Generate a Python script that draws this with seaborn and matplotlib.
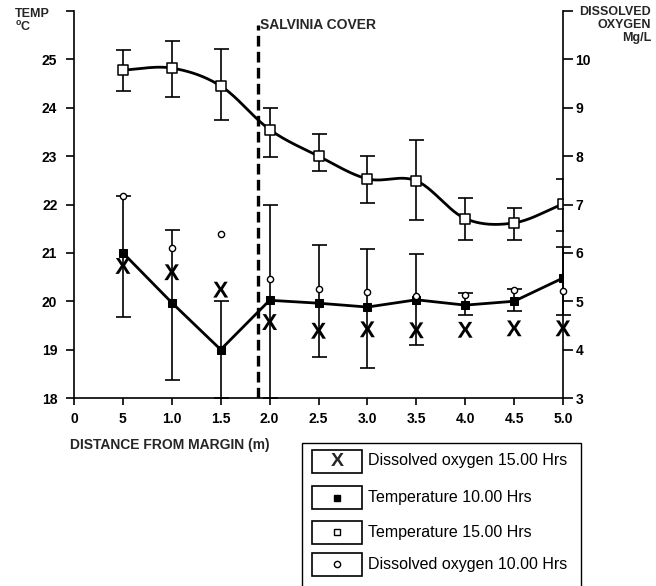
import numpy as np
import pandas as pd
import matplotlib
matplotlib.use("Agg")
import matplotlib.pyplot as plt
import seaborn as sns
from matplotlib.patches import Rectangle

# ---------------- data ----------------
distance = [0.5, 1.0, 1.5, 2.0, 2.5, 3.0, 3.5, 4.0, 4.5, 5.0]
x_tick_values = [0, 0.5, 1.0, 1.5, 2.0, 2.5, 3.0, 3.5, 4.0, 4.5, 5.0]
x_tick_labels = ["0", "5", "1.0", "1.5", "2.0", "2.5", "3.0", "3.5", "4.0", "4.5", "5.0"]

temp_15 = [24.78, 24.82, 24.45, 23.55, 23.00, 22.53, 22.49, 21.71, 21.62, 22.01]
temp_15_hi = [25.20, 25.38, 25.22, 24.00, 23.45, 23.00, 23.34, 22.13, 21.92, 22.53]
temp_15_lo = [24.35, 24.22, 23.75, 22.98, 22.70, 22.03, 21.68, 21.27, 21.27, 21.46]

temp_10 = [21.00, 19.97, 19.00, 20.02, 19.96, 19.88, 20.03, 19.92, 20.00, 20.48]
temp_10_hi = [22.18, 21.48, 20.00, 22.00, 21.17, 21.08, 20.98, 20.17, 20.25, 21.12]
temp_10_lo = [19.68, 18.37, 18.00, 18.00, 18.84, 18.62, 19.10, 19.72, 19.80, 19.72]

do_10 = [7.18, 6.10, 6.40, 5.45, 5.26, 5.19, 5.10, 5.12, 5.24, 5.22]
do_15 = [5.73, 5.60, 5.24, 4.57, 4.39, 4.42, 4.40, 4.41, 4.44, 4.44]

temp_ticks = [18, 19, 20, 21, 22, 23, 24, 25, 26]
temp_tick_labels = ["18", "19", "20", "21", "22", "23", "24", "25", ""]
do_ticks = [3, 4, 5, 6, 7, 8, 9, 10, 11]
do_tick_labels = ["3", "4", "5", "6", "7", "8", "9", "10", ""]

legend_labels = ["Dissolved oxygen 15.00 Hrs", "Temperature 10.00 Hrs",
                 "Temperature 15.00 Hrs", "Dissolved oxygen 10.00 Hrs"]

df = pd.DataFrame({"distance": distance, "temp_15": temp_15, "temp_10": temp_10,
                   "do_10": do_10, "do_15": do_15})

# ---------------- style ----------------
sns.set_theme(style="white")
plt.rcParams["font.family"] = ["Liberation Sans", "DejaVu Sans"]
plt.rcParams["mathtext.fontset"] = "custom"
plt.rcParams["mathtext.bf"] = "Liberation Sans:bold"
plt.rcParams["mathtext.rm"] = "Liberation Sans"

fig = plt.figure(figsize=(6.56, 5.86), dpi=100)
ax = fig.add_axes([74 / 656, 1 - 398 / 586, (563 - 74) / 656, (398 - 11) / 586])
ax2 = ax.twinx()

# smooth (Catmull-Rom) curve through the 15.00 h temperature points
def catmull_rom(xp, yp, n=30):
    xp = np.asarray(xp, float)
    yp = np.asarray(yp, float)
    m = np.zeros_like(yp)
    m[1:-1] = (yp[2:] - yp[:-2]) / (xp[2:] - xp[:-2])
    m[0] = (yp[1] - yp[0]) / (xp[1] - xp[0])
    m[-1] = (yp[-1] - yp[-2]) / (xp[-1] - xp[-2])
    xs, ys = [], []
    for i in range(len(xp) - 1):
        h = xp[i + 1] - xp[i]
        t = np.linspace(0, 1, n, endpoint=False)
        h00 = 2 * t**3 - 3 * t**2 + 1
        h10 = t**3 - 2 * t**2 + t
        h01 = -2 * t**3 + 3 * t**2
        h11 = t**3 - t**2
        xs.append(xp[i] + t * h)
        ys.append(h00 * yp[i] + h10 * h * m[i] + h01 * yp[i + 1] + h11 * h * m[i + 1])
    xs.append([xp[-1]])
    ys.append([yp[-1]])
    return np.concatenate(xs), np.concatenate(ys)

sx, sy = catmull_rom(distance, temp_15)
ax.plot(sx, sy, color="black", lw=2.0, zorder=3, solid_capstyle="round")

# error bars
t15 = np.array(temp_15)
ax.errorbar(distance, temp_15,
            yerr=[t15 - np.array(temp_15_lo), np.array(temp_15_hi) - t15],
            fmt="none", ecolor="black", elinewidth=1.2, capsize=5.4, capthick=1.2, zorder=2)
t10 = np.array(temp_10)
ax.errorbar(distance, temp_10,
            yerr=[t10 - np.array(temp_10_lo), np.array(temp_10_hi) - t10],
            fmt="none", ecolor="black", elinewidth=1.2, capsize=5.4, capthick=1.2, zorder=2,
            clip_on=False)

# temperature 10.00 line with filled squares
sns.lineplot(data=df, x="distance", y="temp_10", ax=ax, color="black", lw=2.0,
             marker="s", markersize=6, markerfacecolor="black", markeredgecolor="black",
             zorder=4, legend=False)
# temperature 15.00 open squares
sns.scatterplot(data=df, x="distance", y="temp_15", ax=ax, marker="s", s=42,
                facecolor="white", edgecolor="black", linewidth=1.1, zorder=5, legend=False)

# vertical dashed Salvinia cover line
ax.axvline(1.88, ymin=0, ymax=0.965, color="black", lw=2.4, ls=(0, (3.2, 1.6)), zorder=2)
ax.text(1.905, 25.72, "SALVINIA COVER", fontsize=10, fontweight="bold",
        ha="left", va="center", zorder=6)

# dissolved oxygen on right axis
sns.scatterplot(data=df, x="distance", y="do_10", ax=ax2, marker="o", s=20,
                facecolor="white", edgecolor="black", linewidth=1.0, zorder=5, legend=False,
                clip_on=False)
sns.scatterplot(data=df, x="distance", y="do_15", ax=ax2, marker=r"$\mathbf{X}$", s=130,
                color="black", edgecolor="none", zorder=5, legend=False, clip_on=False)

# axes formatting
ax.set_xlim(0, 5.0)
ax.set_ylim(18, 26)
ax2.set_ylim(3, 11)
ax.set_xticks(x_tick_values)
ax.set_xticklabels(x_tick_labels)
ax.set_yticks(temp_ticks)
ax.set_yticklabels(temp_tick_labels)
ax2.set_yticks(do_ticks)
ax2.set_yticklabels(do_tick_labels)
ax.set_xlabel("")
ax.set_ylabel("")
ax2.set_ylabel("")

for a in (ax, ax2):
    a.spines["top"].set_visible(False)
    for s in ("left", "right", "bottom"):
        a.spines[s].set_linewidth(1.2)
        a.spines[s].set_color("black")
    a.grid(False)
ax.spines["right"].set_visible(False)
ax2.spines["left"].set_visible(False)
ax2.spines["bottom"].set_visible(False)
ax.patch.set_visible(False)

ax.tick_params(axis="both", direction="out", length=6, width=1.2, colors="black",
               labelsize=10, pad=5)
ax.tick_params(axis="y", left=True, right=False, pad=6)
ax.tick_params(axis="x", bottom=True, length=5, pad=5)
ax2.tick_params(axis="y", direction="out", length=7, width=1.2, colors="black",
                labelsize=10, pad=2, right=True)
for lab in ax.get_xticklabels() + ax.get_yticklabels() + ax2.get_yticklabels():
    lab.set_fontweight("bold")

# axis titles
fig.text(15 / 656, 1 - 21 / 586, "TEMP\n$^{\\mathbf{o}}$C", fontsize=9, fontweight="bold",
         ha="left", va="center", linespacing=0.95)
fig.text(651 / 656, 1 - 25 / 586, "DISSOLVED\nOXYGEN\nMg/L", fontsize=9, fontweight="bold",
         ha="right", va="center", linespacing=1.1, multialignment="right")
fig.text(70 / 656, 1 - 445 / 586, "DISTANCE FROM MARGIN (m)", fontsize=10,
         fontweight="bold", ha="left", va="center")

# manual legend panel
lax = fig.add_axes([0, 0, 1, 1], zorder=10)
lax.set_xlim(0, 656)
lax.set_ylim(586, 0)
lax.axis("off")
lax.add_patch(Rectangle((302, 443), 279, 150, fill=False, ec="black", lw=1.0, clip_on=False))
rows = [461, 497.5, 532, 564]
box_h = 23
for yc, lab in zip(rows, legend_labels):
    lax.add_patch(Rectangle((312, yc - box_h / 2), 50, box_h, fill=False, ec="black", lw=1.2))
    lax.text(368, yc, lab, fontsize=11.5, ha="left", va="center", color="black")
lax.text(337, rows[0] + 0.5, "X", fontsize=14, fontweight="bold", ha="center", va="center")
lax.plot([337], [rows[1]], marker="s", ms=4.5, color="black", ls="none")
lax.plot([337], [rows[2]], marker="s", ms=5, mfc="white", mec="black", mew=1.0, ls="none")
lax.plot([337], [rows[3]], marker="o", ms=4.5, mfc="white", mec="black", mew=1.0, ls="none")

fig.savefig("out.png", dpi=100, facecolor="white")
